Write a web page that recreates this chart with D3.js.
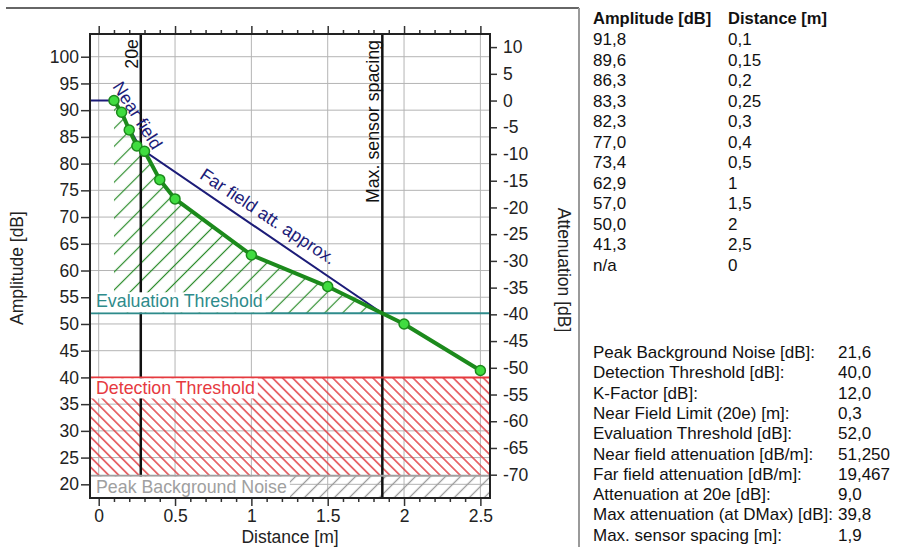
<!DOCTYPE html>
<html lang="en">
<head>
<meta charset="UTF-8"/>
<title>Attenuation curve</title>
<script src="https://d3js.org/d3.v7.min.js"></script>
<style>
	body { margin: 0; background: #fff; }
	svg { display: block; font-family: "Liberation Sans", Arial, sans-serif; }
	.tick text { font-size: 17.5px; fill: #222; }
	.tick line { stroke: #333; stroke-width: 1.5; }
	.grid line { stroke: #b4b4b4; stroke-width: 1; }
	.tbl { font-size: 17px; fill: #111; }
	.tblhead { font-size: 16.5px; font-weight: bold; fill: #111; }
</style>
</head>
<body>
<div id="chart"></div>
<script>
// measured points
var distances  = [0.1, 0.15, 0.2, 0.25, 0.3, 0.4, 0.5, 1, 1.5, 2, 2.5];
var amplitudes = [91.8, 89.6, 86.3, 83.3, 82.3, 77.0, 73.4, 62.9, 57.0, 50.0, 41.3];

// tick values
var ampTicks  = [20, 25, 30, 35, 40, 45, 50, 55, 60, 65, 70, 75, 80, 85, 90, 95, 100];
var attTicks  = [-70, -65, -60, -55, -50, -45, -40, -35, -30, -25, -20, -15, -10, -5, 0, 5, 10];
var distTicks = [0, 0.5, 1, 1.5, 2, 2.5];
var distMinor = [0.1, 0.2, 0.3, 0.4, 0.6, 0.7, 0.8, 0.9, 1.1, 1.2, 1.3, 1.4,
                 1.6, 1.7, 1.8, 1.9, 2.1, 2.2, 2.3, 2.4];

// results
var peakNoise = 21.6;
var detectionThr = 40.0;
var evalThr = 52.0;
var nearAtt = 51.25;
var farAtt = 19.467;
var att20e = 9.0;
var maxAtt = 39.8;

// table text
var tableAmp  = ["91,8", "89,6", "86,3", "83,3", "82,3", "77,0", "73,4", "62,9", "57,0", "50,0", "41,3", "n/a"];
var tableDist = ["0,1", "0,15", "0,2", "0,25", "0,3", "0,4", "0,5", "1", "1,5", "2", "2,5", "0"];
var summaryNames = ["Peak Background Noise [dB]:", "Detection Threshold [dB]:", "K-Factor [dB]:",
	"Near Field Limit (20e) [m]:", "Evaluation Threshold [dB]:", "Near field attenuation [dB/m]:",
	"Far field attenuation [dB/m]:", "Attenuation at 20e [dB]:", "Max attenuation (at DMax) [dB]:",
	"Max. sensor spacing [m]:"];
var summaryValues = ["21,6", "40,0", "12,0", "0,3", "52,0", "51,250", "19,467", "9,0", "39,8", "1,9"];

var w = 912, h = 547;
var L = 90, R = 490, T = 34, B = 498;
var labelSize = 17.8;

var ref = amplitudes[0];
var d0 = distances[0];
var d20e = d0 + att20e / nearAtt;
var dMax = d20e + (maxAtt - att20e) / farAtt;

var xScale = d3.scaleLinear().domain([-0.057, 2.563]).range([L, R]);
var yScale = d3.scaleLinear().domain([17.44, 104.25]).range([B, T]);
var attScale = d3.scaleLinear().domain([17.44 - ref, 104.25 - ref]).range([B, T]);

var svg = d3.select("#chart").append("svg")
	.attr("width", w)
	.attr("height", h);

// frame of the panel
svg.append("line").attr("x1", 6).attr("x2", 579).attr("y1", 8).attr("y2", 8)
	.attr("stroke", "#333").attr("stroke-width", 1.5);
svg.append("line").attr("x1", 579).attr("x2", 579).attr("y1", 8).attr("y2", h)
	.attr("stroke", "#9a9a9a").attr("stroke-width", 2);

var defs = svg.append("defs");
function hatch(id, color, spacing, angle, width) {
	var p = defs.append("pattern")
		.attr("id", id)
		.attr("patternUnits", "userSpaceOnUse")
		.attr("width", spacing)
		.attr("height", spacing)
		.attr("patternTransform", "rotate(" + angle + ")");
	p.append("line")
		.attr("x1", spacing / 2).attr("y1", -1)
		.attr("x2", spacing / 2).attr("y2", spacing + 1)
		.attr("stroke", color)
		.attr("stroke-width", width);
}
hatch("hGreen", "#2b8c2b", 12.7, 45, 1.2);
hatch("hRed", "#e0393e", 7.1, -45, 1.4);
hatch("hGray", "#9c9c9c", 10.6, 45, 1.3);

// grid
var grid = svg.append("g").attr("class", "grid");
grid.selectAll(".vg").data(distTicks).enter().append("line")
	.attr("x1", function(d){ return xScale(d); })
	.attr("x2", function(d){ return xScale(d); })
	.attr("y1", T).attr("y2", B);
grid.selectAll(".hg").data(ampTicks).enter().append("line")
	.attr("x1", L).attr("x2", R)
	.attr("y1", function(d){ return yScale(d); })
	.attr("y2", function(d){ return yScale(d); });

// hatched zones
svg.append("rect")
	.attr("x", L).attr("width", R - L)
	.attr("y", yScale(detectionThr))
	.attr("height", yScale(peakNoise) - yScale(detectionThr))
	.attr("fill", "url(#hRed)");
svg.append("rect")
	.attr("x", L).attr("width", R - L)
	.attr("y", yScale(peakNoise))
	.attr("height", B - yScale(peakNoise))
	.attr("fill", "url(#hGray)");

var zone = [];
distances.forEach(function(d, i){ if (d < dMax) zone.push({d: d, a: amplitudes[i]}); });
zone.push({d: dMax, a: evalThr});
var area = d3.area()
	.x(function(p){ return xScale(p.d); })
	.y0(yScale(evalThr))
	.y1(function(p){ return yScale(p.a); });
svg.append("path").datum(zone).attr("d", area).attr("fill", "url(#hGreen)");

// 20e and max spacing markers
[d20e, dMax].forEach(function(d){
	svg.append("line")
		.attr("x1", xScale(d)).attr("x2", xScale(d))
		.attr("y1", T).attr("y2", B)
		.attr("stroke", "#111").attr("stroke-width", 2.5);
});
svg.append("text")
	.attr("transform", "translate(" + (xScale(d20e) - 3) + "," + (T + 5) + ") rotate(-90)")
	.attr("text-anchor", "end").attr("font-size", labelSize).attr("fill", "#111")
	.text("20e");
svg.append("text")
	.attr("transform", "translate(" + (xScale(dMax) - 3) + "," + (T + 6) + ") rotate(-90)")
	.attr("text-anchor", "end").attr("font-size", labelSize).attr("fill", "#111")
	.text("Max. sensor spacing");

// threshold lines
function hline(v, color) {
	svg.append("line")
		.attr("x1", L).attr("x2", R)
		.attr("y1", yScale(v)).attr("y2", yScale(v))
		.attr("stroke", color).attr("stroke-width", 2);
}
hline(evalThr, "#2e8b8b");
hline(detectionThr, "#e63a3f");
hline(peakNoise, "#a0a0a0");

function boxLabel(txt, top, bottom, baseY, color) {
	var g = svg.append("g");
	var t = g.append("text")
		.attr("x", L + 6).attr("y", baseY)
		.attr("font-size", labelSize).attr("fill", color)
		.text(txt);
	var bb = t.node().getBBox();
	g.insert("rect", "text")
		.attr("x", L + 1).attr("y", top)
		.attr("width", bb.x + bb.width + 3 - (L + 1))
		.attr("height", bottom - top)
		.attr("fill", "#fff");
}
boxLabel("Evaluation Threshold", yScale(evalThr) - 21, yScale(evalThr) - 1, yScale(evalThr) - 6.5, "#2e8b8b");
boxLabel("Detection Threshold", yScale(detectionThr) + 1, yScale(detectionThr) + 21, yScale(detectionThr) + 16.5, "#e63a3f");
boxLabel("Peak Background Noise", yScale(peakNoise) + 1, B - 1, yScale(peakNoise) + 17, "#a0a0a0");

// attenuation approximation
var approx = [[xScale.domain()[0], ref], [d0, ref], [d20e, ref - att20e], [dMax, ref - maxAtt]];
var line = d3.line()
	.x(function(p){ return xScale(p[0]); })
	.y(function(p){ return yScale(p[1]); });
svg.append("path").datum(approx).attr("d", line)
	.attr("fill", "none").attr("stroke", "#1c1c78").attr("stroke-width", 2);

svg.append("text")
	.attr("transform", "translate(" + (xScale(d0) - 2) + "," + (yScale(ref) - 14) + ") rotate(57.5)")
	.attr("font-size", labelSize).attr("fill", "#1c1c78")
	.text("Near field");
svg.append("text")
	.attr("transform", "translate(" + (xScale(d20e) + 58) + "," + (yScale(ref - att20e) + 29) + ") rotate(33.6)")
	.attr("font-size", labelSize).attr("fill", "#1c1c78")
	.text("Far field att. approx.");

// measured curve
var pts = distances.map(function(d, i){ return [d, amplitudes[i]]; });
svg.append("path").datum(pts).attr("d", line)
	.attr("fill", "none").attr("stroke", "#1c8a1c").attr("stroke-width", 4)
	.attr("stroke-linejoin", "round");
svg.selectAll(".pt").data(pts).enter().append("circle")
	.attr("cx", function(p){ return xScale(p[0]); })
	.attr("cy", function(p){ return yScale(p[1]); })
	.attr("r", 5)
	.attr("fill", "#40dc40")
	.attr("stroke", "#1c8a1c")
	.attr("stroke-width", 1.5);

// axes
var fmt = function(d){ return String(d); };
svg.append("g").attr("transform", "translate(" + L + ",0)")
	.call(d3.axisLeft(yScale).tickValues(ampTicks).tickSize(9).tickPadding(2).tickFormat(fmt));
svg.append("g").attr("transform", "translate(" + R + ",0)")
	.call(d3.axisRight(attScale).tickValues(attTicks).tickSize(7).tickPadding(6).tickFormat(fmt));
svg.append("g").attr("transform", "translate(0," + B + ")")
	.call(d3.axisBottom(xScale).tickValues(distTicks).tickSize(8).tickPadding(4).tickFormat(fmt));
svg.append("g").attr("transform", "translate(0," + B + ")")
	.call(d3.axisBottom(xScale).tickValues(distMinor).tickSize(4).tickFormat(""));
svg.append("g").attr("transform", "translate(0," + T + ")")
	.call(d3.axisTop(xScale).tickValues(distTicks).tickSize(8).tickFormat(""));
svg.append("g").attr("transform", "translate(0," + T + ")")
	.call(d3.axisTop(xScale).tickValues(distMinor).tickSize(4).tickFormat(""));
svg.selectAll(".domain").remove();

svg.append("rect")
	.attr("x", L).attr("y", T)
	.attr("width", R - L).attr("height", B - T)
	.attr("fill", "none").attr("stroke", "#222").attr("stroke-width", 2);

// axis titles
svg.append("text")
	.attr("transform", "translate(23," + ((T + B) / 2 + 2) + ") rotate(-90)")
	.attr("text-anchor", "middle").attr("font-size", 17.5).attr("fill", "#222")
	.text("Amplitude [dB]");
svg.append("text")
	.attr("transform", "translate(558," + ((T + B) / 2 + 4) + ") rotate(90)")
	.attr("text-anchor", "middle").attr("font-size", 17.5).attr("fill", "#222")
	.text("Attenuation [dB]");
svg.append("text")
	.attr("x", (L + R) / 2).attr("y", 543)
	.attr("text-anchor", "middle").attr("font-size", 17.5).attr("fill", "#222")
	.text("Distance [m]");

// tables
svg.append("text").attr("class", "tblhead").attr("x", 593).attr("y", 24).text("Amplitude [dB]");
svg.append("text").attr("class", "tblhead").attr("x", 728).attr("y", 24).text("Distance [m]");
svg.selectAll(".ra").data(tableAmp).enter().append("text")
	.attr("class", "tbl").attr("x", 593)
	.attr("y", function(d, i){ return 45 + i * 20.5; })
	.text(function(d){ return d; });
svg.selectAll(".rd").data(tableDist).enter().append("text")
	.attr("class", "tbl").attr("x", 728)
	.attr("y", function(d, i){ return 45 + i * 20.5; })
	.text(function(d){ return d; });
svg.selectAll(".sn").data(summaryNames).enter().append("text")
	.attr("class", "tbl").attr("x", 593)
	.attr("y", function(d, i){ return 358 + i * 20.3; })
	.text(function(d){ return d; });
svg.selectAll(".sv").data(summaryValues).enter().append("text")
	.attr("class", "tbl").attr("x", 838)
	.attr("y", function(d, i){ return 358 + i * 20.3; })
	.text(function(d){ return d; });
</script>
</body>
</html>
